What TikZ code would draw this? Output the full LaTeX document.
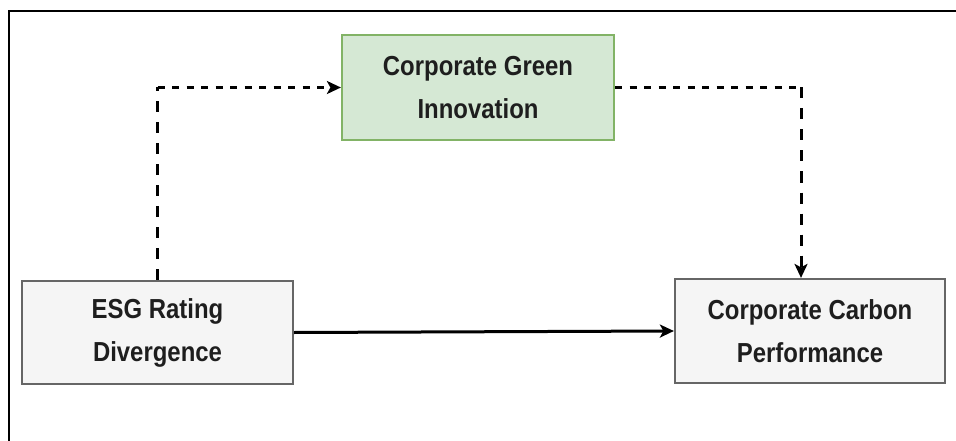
\documentclass[tikz,border=0pt]{standalone}
\usepackage{fontspec}
\setmainfont{Liberation Sans}
\newfontfamily\labelfont[FakeStretch=0.87]{Liberation Sans}
\usetikzlibrary{arrows.meta,calc}
\definecolor{greenfill}{HTML}{D5E8D4}
\definecolor{greenline}{HTML}{82B366}
\definecolor{grayfill}{HTML}{F5F5F5}
\definecolor{grayline}{HTML}{666666}
\definecolor{labeltext}{HTML}{1E1E1E}
\begin{document}
\begin{tikzpicture}[x=1pt,y=-1pt,
  box/.style={draw, line width=2.2pt, rectangle, align=center, inner sep=0pt,
    text=labeltext, font=\labelfont\fontsize{27.5}{43}\selectfont\bfseries},
  graybox/.style={box, draw=grayline, fill=grayfill},
  greenbox/.style={box, draw=greenline, fill=greenfill},
  tip/.style={-{Stealth[length=14pt,width=13pt,inset=3.5pt]}},
  link/.style={line width=3pt, tip},
  hdash/.style={line width=3pt, dash pattern=on 7pt off 7.5pt},
  vdash/.style={line width=3pt, dash pattern=on 11pt off 10pt}]
  \useasboundingbox (0,0) rectangle (956,441);
  % outer frame (left and top edges)
  \draw[line width=2pt] (9,441) -- (9,11) -- (956,11);
  % variables
  \node[greenbox, minimum width=272pt, minimum height=105pt] (gi) at (478,87.5)
    {Corporate Green\\Innovation};
  \node[graybox, minimum width=271pt, minimum height=103pt] (esg) at (157.5,332.5)
    {ESG Rating\\Divergence};
  \node[graybox, minimum width=270pt, minimum height=104pt] (ccp) at (810,331)
    {Corporate Carbon\\Performance};
  % mediation paths: corners and end point
  \coordinate (ccpin) at ($(ccp.north)+(-9,0)$);
  \coordinate (cornerA) at (esg.north |- gi.west);
  \coordinate (cornerB) at (ccpin |- gi.east);
  \draw[vdash] (esg.north) -- (cornerA);
  \draw[hdash, tip] (cornerA) -- (gi.west);
  \draw[hdash] (gi.east) -- (cornerB);
  \draw[vdash, tip] (cornerB) -- (ccpin);
  % direct effect
  \draw[link] (esg.east) -- (ccp.west);
\end{tikzpicture}
\end{document}
